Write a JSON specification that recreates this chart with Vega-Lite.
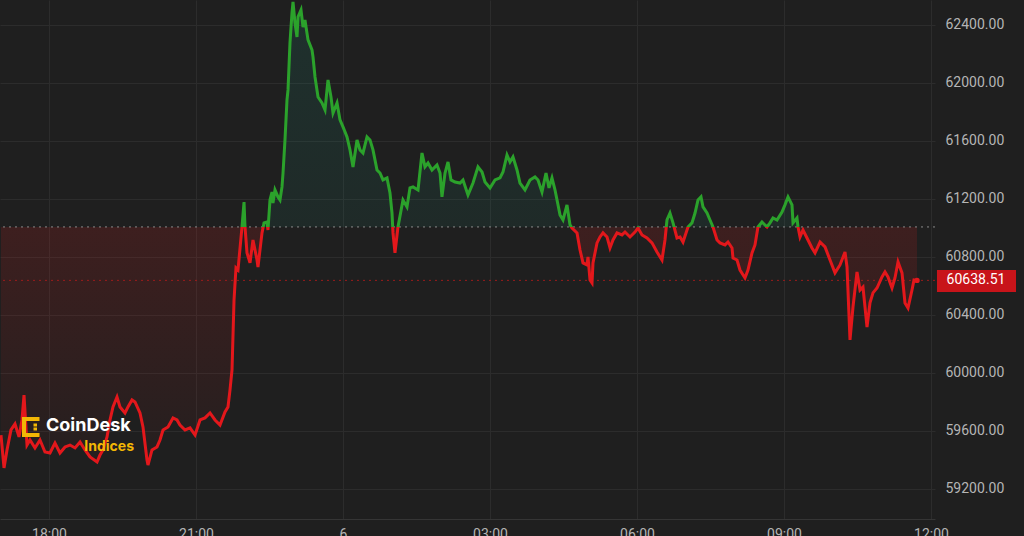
{
  "$schema": "https://vega.github.io/schema/vega-lite/v6.json",
  "width": 935,
  "height": 519,
  "autosize": {"type": "none"},
  "padding": {"left": 0, "top": 0, "right": 89, "bottom": 17},
  "background": "#1f1f1f",
  "config": {"view": {"stroke": null, "fill": "#1f1f1f"}, "font": "Roboto"},
  "datasets": {
    "price": [
      {"h":17.020,"v":59572},{"h":17.082,"v":59345},{"h":17.143,"v":59469},{"h":17.224,"v":59607},{"h":17.306,"v":59648},{"h":17.388,"v":59559},{"h":17.449,"v":59676},{"h":17.490,"v":59848},{"h":17.551,"v":59503},{"h":17.612,"v":59538},{"h":17.714,"v":59483},{"h":17.816,"v":59538},{"h":17.918,"v":59455},{"h":18.020,"v":59448},{"h":18.122,"v":59517},{"h":18.224,"v":59448},{"h":18.327,"v":59490},{"h":18.429,"v":59503},{"h":18.531,"v":59483},{"h":18.633,"v":59524},{"h":18.735,"v":59469},{"h":18.837,"v":59421},{"h":18.980,"v":59386},{"h":19.041,"v":59434},{"h":19.102,"v":59469},{"h":19.184,"v":59559},{"h":19.245,"v":59676},{"h":19.306,"v":59766},{"h":19.388,"v":59834},{"h":19.449,"v":59766},{"h":19.551,"v":59724},{"h":19.612,"v":59766},{"h":19.694,"v":59814},{"h":19.755,"v":59800},{"h":19.857,"v":59724},{"h":19.918,"v":59628},{"h":20.000,"v":59400},{"h":20.020,"v":59365},{"h":20.102,"v":59469},{"h":20.204,"v":59490},{"h":20.265,"v":59538},{"h":20.327,"v":59607},{"h":20.429,"v":59628},{"h":20.531,"v":59690},{"h":20.612,"v":59676},{"h":20.673,"v":59641},{"h":20.776,"v":59607},{"h":20.878,"v":59621},{"h":20.980,"v":59572},{"h":21.082,"v":59676},{"h":21.184,"v":59690},{"h":21.286,"v":59724},{"h":21.388,"v":59676},{"h":21.490,"v":59641},{"h":21.592,"v":59731},{"h":21.653,"v":59766},{"h":21.694,"v":59883},{"h":21.735,"v":60021},{"h":21.776,"v":60503},{"h":21.816,"v":60724},{"h":21.857,"v":60710},{"h":21.939,"v":61007},{"h":21.980,"v":61179},{"h":22.000,"v":61007},{"h":22.041,"v":60828},{"h":22.102,"v":60759},{"h":22.163,"v":60917},{"h":22.245,"v":60779},{"h":22.265,"v":60731},{"h":22.347,"v":60966},{"h":22.388,"v":61035},{"h":22.449,"v":61041},{"h":22.469,"v":60986},{"h":22.510,"v":61193},{"h":22.551,"v":61248},{"h":22.571,"v":61172},{"h":22.612,"v":61262},{"h":22.673,"v":61214},{"h":22.714,"v":61193},{"h":22.755,"v":61283},{"h":22.776,"v":61379},{"h":22.816,"v":61607},{"h":22.857,"v":61883},{"h":22.878,"v":61952},{"h":22.918,"v":62276},{"h":22.959,"v":62483},{"h":22.980,"v":62559},{"h":23.020,"v":62414},{"h":23.061,"v":62317},{"h":23.082,"v":62455},{"h":23.143,"v":62503},{"h":23.184,"v":62386},{"h":23.224,"v":62434},{"h":23.286,"v":62297},{"h":23.367,"v":62228},{"h":23.388,"v":62179},{"h":23.429,"v":62041},{"h":23.490,"v":61903},{"h":23.571,"v":61862},{"h":23.633,"v":61814},{"h":23.694,"v":62021},{"h":23.755,"v":61903},{"h":23.796,"v":61793},{"h":23.878,"v":61862},{"h":23.939,"v":61745},{"h":24.000,"v":61697},{"h":24.082,"v":61628},{"h":24.143,"v":61538},{"h":24.204,"v":61421},{"h":24.286,"v":61607},{"h":24.347,"v":61538},{"h":24.408,"v":61517},{"h":24.490,"v":61628},{"h":24.551,"v":61607},{"h":24.612,"v":61538},{"h":24.694,"v":61400},{"h":24.755,"v":61379},{"h":24.816,"v":61331},{"h":24.898,"v":61345},{"h":24.959,"v":61241},{"h":25.000,"v":61103},{"h":25.020,"v":60966},{"h":25.061,"v":60828},{"h":25.122,"v":61007},{"h":25.224,"v":61193},{"h":25.306,"v":61145},{"h":25.367,"v":61276},{"h":25.429,"v":61283},{"h":25.531,"v":61262},{"h":25.612,"v":61517},{"h":25.673,"v":61421},{"h":25.735,"v":61448},{"h":25.816,"v":61400},{"h":25.918,"v":61435},{"h":25.980,"v":61379},{"h":26.020,"v":61214},{"h":26.082,"v":61379},{"h":26.143,"v":61455},{"h":26.204,"v":61331},{"h":26.286,"v":61317},{"h":26.388,"v":61310},{"h":26.449,"v":61331},{"h":26.551,"v":61228},{"h":26.653,"v":61310},{"h":26.755,"v":61421},{"h":26.837,"v":61386},{"h":26.898,"v":61317},{"h":27.000,"v":61276},{"h":27.102,"v":61331},{"h":27.204,"v":61345},{"h":27.265,"v":61386},{"h":27.347,"v":61503},{"h":27.408,"v":61455},{"h":27.469,"v":61490},{"h":27.551,"v":61400},{"h":27.612,"v":61310},{"h":27.714,"v":61262},{"h":27.816,"v":61331},{"h":27.918,"v":61352},{"h":27.980,"v":61331},{"h":28.061,"v":61248},{"h":28.143,"v":61379},{"h":28.204,"v":61276},{"h":28.265,"v":61345},{"h":28.327,"v":61262},{"h":28.429,"v":61090},{"h":28.490,"v":61055},{"h":28.571,"v":61159},{"h":28.633,"v":61021},{"h":28.673,"v":61000},{"h":28.776,"v":60966},{"h":28.837,"v":60848},{"h":28.898,"v":60759},{"h":28.980,"v":60745},{"h":29.000,"v":60800},{"h":29.041,"v":60641},{"h":29.082,"v":60621},{"h":29.102,"v":60759},{"h":29.184,"v":60897},{"h":29.245,"v":60938},{"h":29.306,"v":60966},{"h":29.388,"v":60938},{"h":29.449,"v":60862},{"h":29.510,"v":60917},{"h":29.592,"v":60966},{"h":29.694,"v":60952},{"h":29.755,"v":60972},{"h":29.857,"v":60938},{"h":29.959,"v":60972},{"h":30.020,"v":61000},{"h":30.102,"v":60952},{"h":30.204,"v":60931},{"h":30.306,"v":60897},{"h":30.408,"v":60834},{"h":30.510,"v":60779},{"h":30.571,"v":60917},{"h":30.612,"v":61055},{"h":30.673,"v":61103},{"h":30.735,"v":61035},{"h":30.816,"v":60931},{"h":30.878,"v":60938},{"h":30.939,"v":60903},{"h":31.041,"v":61007},{"h":31.122,"v":61035},{"h":31.184,"v":61103},{"h":31.245,"v":61193},{"h":31.306,"v":61214},{"h":31.347,"v":61145},{"h":31.429,"v":61103},{"h":31.490,"v":61055},{"h":31.551,"v":61007},{"h":31.633,"v":60917},{"h":31.694,"v":60897},{"h":31.796,"v":60883},{"h":31.857,"v":60903},{"h":31.939,"v":60862},{"h":31.959,"v":60793},{"h":32.041,"v":60779},{"h":32.102,"v":60710},{"h":32.204,"v":60655},{"h":32.265,"v":60710},{"h":32.347,"v":60828},{"h":32.408,"v":60883},{"h":32.469,"v":61007},{"h":32.551,"v":61041},{"h":32.653,"v":61007},{"h":32.714,"v":61035},{"h":32.776,"v":61069},{"h":32.857,"v":61055},{"h":32.959,"v":61110},{"h":33.020,"v":61159},{"h":33.082,"v":61214},{"h":33.163,"v":61159},{"h":33.184,"v":61035},{"h":33.265,"v":61069},{"h":33.286,"v":61007},{"h":33.327,"v":60938},{"h":33.388,"v":60986},{"h":33.469,"v":60931},{"h":33.571,"v":60862},{"h":33.633,"v":60828},{"h":33.735,"v":60903},{"h":33.837,"v":60869},{"h":33.939,"v":60779},{"h":34.041,"v":60690},{"h":34.143,"v":60745},{"h":34.245,"v":60834},{"h":34.286,"v":60731},{"h":34.347,"v":60228},{"h":34.408,"v":60455},{"h":34.490,"v":60697},{"h":34.551,"v":60572},{"h":34.612,"v":60593},{"h":34.694,"v":60317},{"h":34.755,"v":60483},{"h":34.816,"v":60552},{"h":34.898,"v":60586},{"h":35.000,"v":60662},{"h":35.061,"v":60697},{"h":35.122,"v":60662},{"h":35.204,"v":60586},{"h":35.265,"v":60655},{"h":35.327,"v":60766},{"h":35.408,"v":60690},{"h":35.469,"v":60483},{"h":35.531,"v":60448},{"h":35.612,"v":60572},{"h":35.653,"v":60641},{"h":35.714,"v":60638.51}
    ],
    "ref": [{"base": 61007, "last": 60638.51, "label": "60638.51", "lx": 36.918, "rx1": 36.122, "rx2": 37.735, "ry1": 60710, "ry2": 60559}],
    "logo": [{"brand": "CoinDesk", "sub": "Indices", "ix": 17.653, "iy": 59628, "bx": 17.939, "by": 59634, "sx": 19.735, "sy": 59490}],
    "last": [{"h": 35.714, "v": 60638.51}]
  },
  "layer": [
    {
      "data": {"name": "price"},
      "mark": {
        "type": "area",
        "fill": {
          "gradient": "linear", "x1": 0, "y1": 0, "x2": 0, "y2": 1,
          "stops": [
            {"offset": 0, "color": "rgba(30,140,120,0.16)"},
            {"offset": 0.4829, "color": "rgba(30,140,120,0.10)"},
            {"offset": 0.4829, "color": "rgba(200,30,30,0.18)"},
            {"offset": 1, "color": "rgba(200,30,30,0.03)"}
          ]
        }
      },
      "encoding": {
        "x": {
          "field": "h", "type": "quantitative",
          "scale": {"domain": [17, 36.0816], "nice": false, "zero": false},
          "axis": {
            "values": [18, 21, 24, 27, 30, 33, 36],
            "labelExpr": "datum.value == 24 ? '6' : (((datum.value % 24) < 10 ? '0' : '') + (datum.value % 24) + ':00')",
            "title": null, "grid": true, "gridColor": "#2c2c2c", "gridWidth": 1,
            "domain": true, "domainColor": "#353535", "ticks": false,
            "labelColor": "#b5b5b5", "labelFontSize": 14, "labelPadding": 8,
            "labelBaseline": "top", "labelOverlap": false, "labelBound": false, "labelFlush": false
          }
        },
        "y": {
          "field": "v", "type": "quantitative",
          "scale": {"domain": [58993, 62572], "nice": false, "zero": false},
          "axis": {
            "orient": "right",
            "values": [59200, 59600, 60000, 60400, 60800, 61200, 61600, 62000, 62400],
            "format": ".2f", "title": null, "grid": true, "gridColor": "#2c2c2c",
            "domain": false, "ticks": false, "labelColor": "#b5b5b5",
            "labelFontSize": 14, "labelPadding": 10
          }
        },
        "y2": {"datum": 61007}
      }
    },
    {
      "data": {"name": "ref"},
      "mark": {"type": "rule", "color": "#8a8a8a", "strokeDash": [2, 4], "strokeWidth": 1},
      "encoding": {
        "y": {"field": "base", "type": "quantitative"}
      }
    },
    {
      "data": {"name": "ref"},
      "mark": {"type": "rule", "color": "#9a1c1c", "strokeDash": [2, 4], "strokeWidth": 1},
      "encoding": {
        "y": {"field": "last", "type": "quantitative"}
      }
    },
    {
      "data": {"name": "price"},
      "mark": {
        "type": "line", "strokeWidth": 3,
        "stroke": {
          "gradient": "linear", "x1": 0, "y1": 0, "x2": 0, "y2": 1,
          "stops": [
            {"offset": 0, "color": "#2ba22b"},
            {"offset": 0.4829, "color": "#2ba22b"},
            {"offset": 0.4829, "color": "#e3171b"},
            {"offset": 1, "color": "#e3171b"}
          ]
        }
      },
      "encoding": {
        "x": {"field": "h", "type": "quantitative"},
        "y": {"field": "v", "type": "quantitative"}
      }
    },
    {
      "data": {"name": "last"},
      "mark": {"type": "point", "filled": true, "color": "#e3171b", "size": 30, "opacity": 1},
      "encoding": {
        "x": {"field": "h", "type": "quantitative"},
        "y": {"field": "v", "type": "quantitative"}
      }
    },
    {
      "data": {"name": "ref"},
      "mark": {"type": "rect", "color": "#c8141a"},
      "encoding": {
        "x": {"field": "rx1", "type": "quantitative"},
        "x2": {"field": "rx2"},
        "y": {"field": "ry1", "type": "quantitative"},
        "y2": {"field": "ry2"}
      }
    },
    {
      "data": {"name": "ref"},
      "mark": {"type": "text", "color": "#ffffff", "fontSize": 14, "align": "center", "baseline": "middle"},
      "encoding": {
        "x": {"field": "lx", "type": "quantitative"},
        "y": {"field": "last", "type": "quantitative"},
        "text": {"field": "label"}
      }
    },
    {
      "data": {"name": "logo"},
      "mark": {
        "type": "point", "filled": true, "color": "#f2b705", "size": 400, "opacity": 1,
        "shape": "M-1,-1H0.75V-0.6H-0.6V0.6H0.75V1H-1Z M0.15,-0.35H0.5V-0.05H0.15Z M0.15,0.05H0.5V0.35H0.15Z"
      },
      "encoding": {
        "x": {"field": "ix", "type": "quantitative"},
        "y": {"field": "iy", "type": "quantitative"}
      }
    },
    {
      "data": {"name": "logo"},
      "mark": {"type": "text", "color": "#ffffff", "font": "Inter", "fontWeight": "bold", "fontSize": 18, "align": "left", "baseline": "middle"},
      "encoding": {
        "x": {"field": "bx", "type": "quantitative"},
        "y": {"field": "by", "type": "quantitative"},
        "text": {"field": "brand"}
      }
    },
    {
      "data": {"name": "logo"},
      "mark": {"type": "text", "color": "#f2b705", "font": "Inter", "fontWeight": "bold", "fontSize": 14, "align": "right", "baseline": "middle"},
      "encoding": {
        "x": {"field": "sx", "type": "quantitative"},
        "y": {"field": "sy", "type": "quantitative"},
        "text": {"field": "sub"}
      }
    }
  ]
}
